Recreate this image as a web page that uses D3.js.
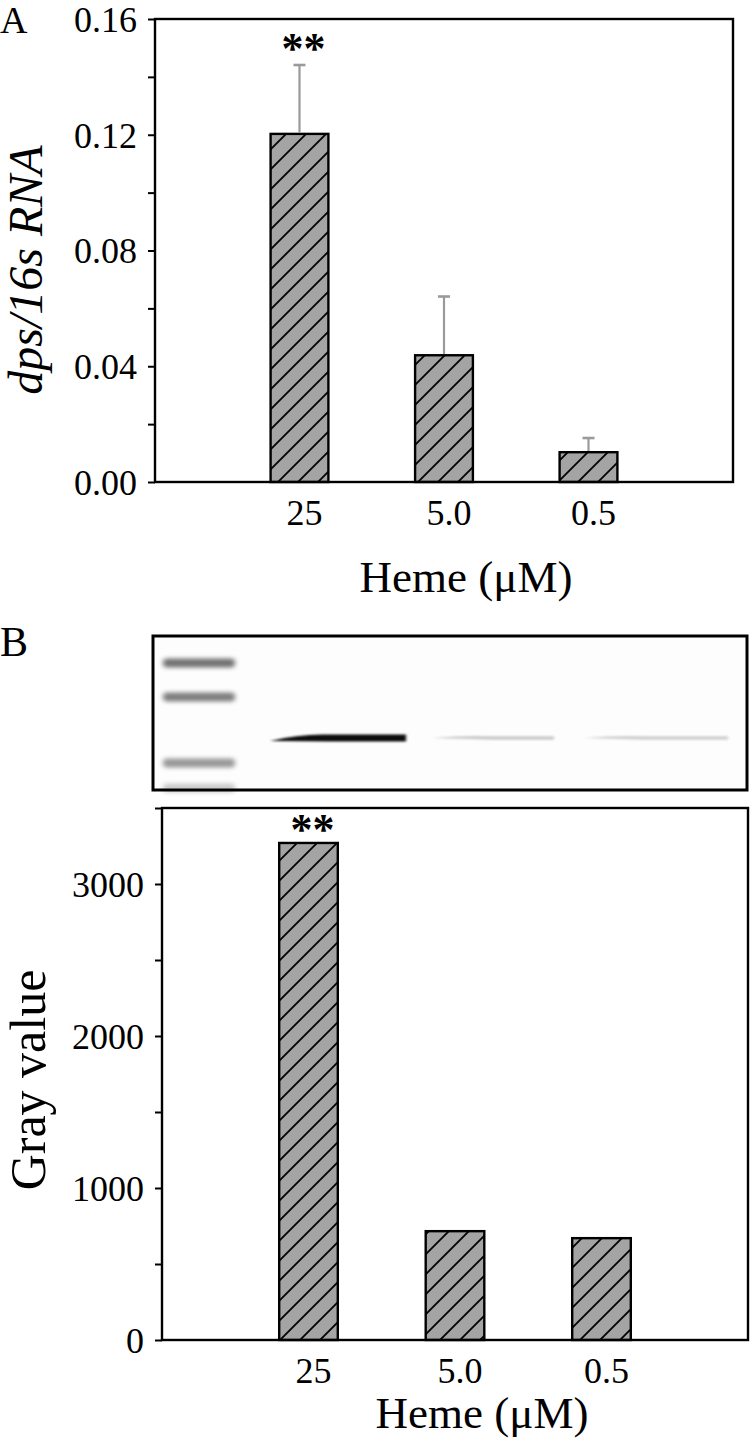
<!DOCTYPE html>
<html><head><meta charset="utf-8">
<script src="https://cdn.jsdelivr.net/npm/d3@7"></script>
<style>html,body{margin:0;padding:0;background:#fff}svg{display:block}</style>
</head><body>
<script>
// ---- data ----
const categories = ["25", "5.0", "0.5"];
const rnaValues = [0.1203, 0.0438, 0.0103];
const rnaErrors = [0.0238, 0.0203, 0.0049];
const grayValues = [3270, 716, 670];
const significance = ["**", "", ""];
const rnaTicks = [0, 0.04, 0.08, 0.12, 0.16];
const rnaMinorTicks = [0.02, 0.06, 0.10, 0.14];
const grayTicks = [0, 1000, 2000, 3000];
const grayMinorTicks = [500, 1500, 2500, 3500];
const xTitle = "Heme (μM)";
const yTitleA = "dps/16s RNA";
const yTitleB = "Gray value";
// gel (decorative blot) band descriptions
const ladderBands = [663, 697, 763, 788];
const ladderOpacity = [0.55, 0.5, 0.4, 0.2];
const laneBands = [[270, 406], [432, 554], [584, 728]];
const laneOpacity = [0.95, 0.2, 0.18];

const W = 750, H = 1440;
const FONT = "'Liberation Serif', 'Times New Roman', serif";
const svg = d3.select("body").append("svg").attr("width", W).attr("height", H);
const defs = svg.append("defs");
const pat = defs.append("pattern").attr("id", "hatch").attr("patternUnits", "userSpaceOnUse")
  .attr("width", 20).attr("height", 20);
pat.append("rect").attr("width", 20).attr("height", 20).attr("fill", "#a4a4a4");
pat.append("path").attr("d", "M-5,5 L5,-5 M0,20 L20,0 M15,25 L25,15")
  .attr("stroke", "#000").attr("stroke-width", 1.8);
const blur = defs.append("filter").attr("id", "blur")
  .attr("x", "-20%").attr("y", "-300%").attr("width", "140%").attr("height", "700%");
blur.append("feGaussianBlur").attr("stdDeviation", "2.5 2");
const blur2 = defs.append("filter").attr("id", "blur2")
  .attr("x", "-20%").attr("y", "-300%").attr("width", "140%").attr("height", "700%");
blur2.append("feGaussianBlur").attr("stdDeviation", "1.5 1.2");

function panel(opts) {
  const {left, right, top, bottom, yDomain, ticks, minor, fmt, values, errors, yTitle, italic,
    yTitleX, yTitleY, yTitleSize, xTitleX, xTitleY, starOffset} = opts;
  const g = svg.append("g");
  const step = (right - left) / 4;
  const x = d3.scaleBand().domain(categories)
    .range([left + step * 0.5, left + step * 3.5]).paddingInner(0.6).paddingOuter(0.3);
  const y = d3.scaleLinear().domain(yDomain).range([bottom, top]);

  const axis = d3.axisLeft(y).tickValues(ticks.concat(minor).sort((a, b) => a - b))
    .tickSize(7).tickPadding(11)
    .tickFormat(d => ticks.includes(d) ? fmt(d) : "");
  const ag = g.append("g").attr("transform", `translate(${left},0)`).call(axis);
  ag.select(".domain").remove();
  ag.selectAll("line").attr("stroke", "#000").attr("stroke-width", 2);
  ag.selectAll("text").attr("font-family", FONT).attr("font-size", 36).attr("fill", "#000")
    .attr("dy", "0.34em");

  g.selectAll(".bar").data(values).join("rect").attr("class", "bar")
    .attr("x", (d, i) => x(categories[i])).attr("width", x.bandwidth())
    .attr("y", d => y(d)).attr("height", d => bottom - y(d))
    .attr("fill", "url(#hatch)").attr("stroke", "#000").attr("stroke-width", 2.4);

  if (errors) {
    const eg = g.selectAll(".err").data(values).join("g").attr("class", "err");
    eg.append("line")
      .attr("x1", (d, i) => x(categories[i]) + x.bandwidth() / 2)
      .attr("x2", (d, i) => x(categories[i]) + x.bandwidth() / 2)
      .attr("y1", d => y(d) - 1.2).attr("y2", (d, i) => y(d + errors[i]))
      .attr("stroke", "#9a9a9a").attr("stroke-width", 2.2);
    eg.append("line")
      .attr("x1", (d, i) => x(categories[i]) + x.bandwidth() / 2 - 6)
      .attr("x2", (d, i) => x(categories[i]) + x.bandwidth() / 2 + 6)
      .attr("y1", (d, i) => y(d + errors[i])).attr("y2", (d, i) => y(d + errors[i]))
      .attr("stroke", "#9a9a9a").attr("stroke-width", 2.6);
  }

  g.selectAll(".star").data(significance).join("text").attr("class", "star")
    .attr("x", (d, i) => x(categories[i]) + x.bandwidth() / 2 + 4)
    .attr("y", (d, i) => y(values[i] + (errors ? errors[i] : 0)) - starOffset)
    .attr("text-anchor", "middle").attr("font-family", FONT).attr("font-weight", "bold")
    .attr("font-size", 44).text(d => d);

  g.append("rect").attr("x", left).attr("y", top).attr("width", right - left).attr("height", bottom - top)
    .attr("fill", "none").attr("stroke", "#000").attr("stroke-width", 2.4);

  g.selectAll(".xl").data(categories).join("text").attr("class", "xl")
    .attr("x", d => x(d) + x.bandwidth() / 2 + 5).attr("y", bottom + 43)
    .attr("text-anchor", "middle").attr("font-family", FONT).attr("font-size", 36).text(d => d);

  g.append("text").attr("x", xTitleX).attr("y", xTitleY).attr("text-anchor", "middle")
    .attr("font-family", FONT).attr("font-size", 45).text(xTitle);
  g.append("text").attr("transform", `translate(${yTitleX},${yTitleY}) rotate(-90)`)
    .attr("text-anchor", "middle").attr("font-family", FONT).attr("font-size", yTitleSize)
    .attr("font-style", italic ? "italic" : "normal").text(yTitle);
  return {x, y};
}

// Panel A
panel({left: 155, right: 733, top: 19, bottom: 482, yDomain: [0, 0.16],
  ticks: rnaTicks, minor: rnaMinorTicks, fmt: d3.format(".2f"),
  values: rnaValues, errors: rnaErrors, yTitle: yTitleA, italic: true,
  yTitleX: 42, yTitleY: 270, yTitleSize: 48, xTitleX: 466, xTitleY: 592, starOffset: 2});

// Panel B chart
panel({left: 162, right: 748, top: 808, bottom: 1340, yDomain: [0, 3500],
  ticks: grayTicks, minor: grayMinorTicks, fmt: d3.format("d"),
  values: grayValues, errors: null, yTitle: yTitleB, italic: false,
  yTitleX: 45, yTitleY: 1080, yTitleSize: 50, xTitleX: 482, xTitleY: 1428, starOffset: -1});

// Gel blot image (decorative)
const gel = svg.append("g");
gel.append("rect").attr("x", 153).attr("y", 636).attr("width", 594).attr("height", 154)
  .attr("fill", "#fdfdfd");
const ladder = gel.append("g").attr("filter", "url(#blur)");
ladder.selectAll(".ladder").data(ladderBands).join("rect")
  .attr("x", 163).attr("width", 72).attr("y", d => d - 4.5).attr("height", 9).attr("rx", 4)
  .attr("fill", "#000").attr("opacity", (d, i) => ladderOpacity[i]);
const lanes = gel.append("g").attr("filter", "url(#blur2)");
lanes.selectAll(".lane").data(laneBands).join("path")
  .attr("d", (d, i) => {
    const h = i === 0 ? 3.4 : 1.8;
    const yc = 738;
    return `M${d[0]},${yc + (i === 0 ? 3 : 0)} Q${d[0] + 30},${yc - h - 1} ${d[0] + 60},${yc - h} L${d[1]},${yc - h} L${d[1]},${yc + h} L${d[0] + 60},${yc + h} Z`;
  })
  .attr("fill", "#000").attr("opacity", (d, i) => laneOpacity[i]);
gel.append("rect").attr("x", 153).attr("y", 636).attr("width", 594).attr("height", 154)
  .attr("fill", "none").attr("stroke", "#000").attr("stroke-width", 3);

// Panel letters
svg.append("text").attr("x", 0).attr("y", 33).attr("font-family", FONT).attr("font-size", 38).text("A");
svg.append("text").attr("x", 0).attr("y", 656).attr("font-family", FONT).attr("font-size", 42).text("B");
</script></body></html>
